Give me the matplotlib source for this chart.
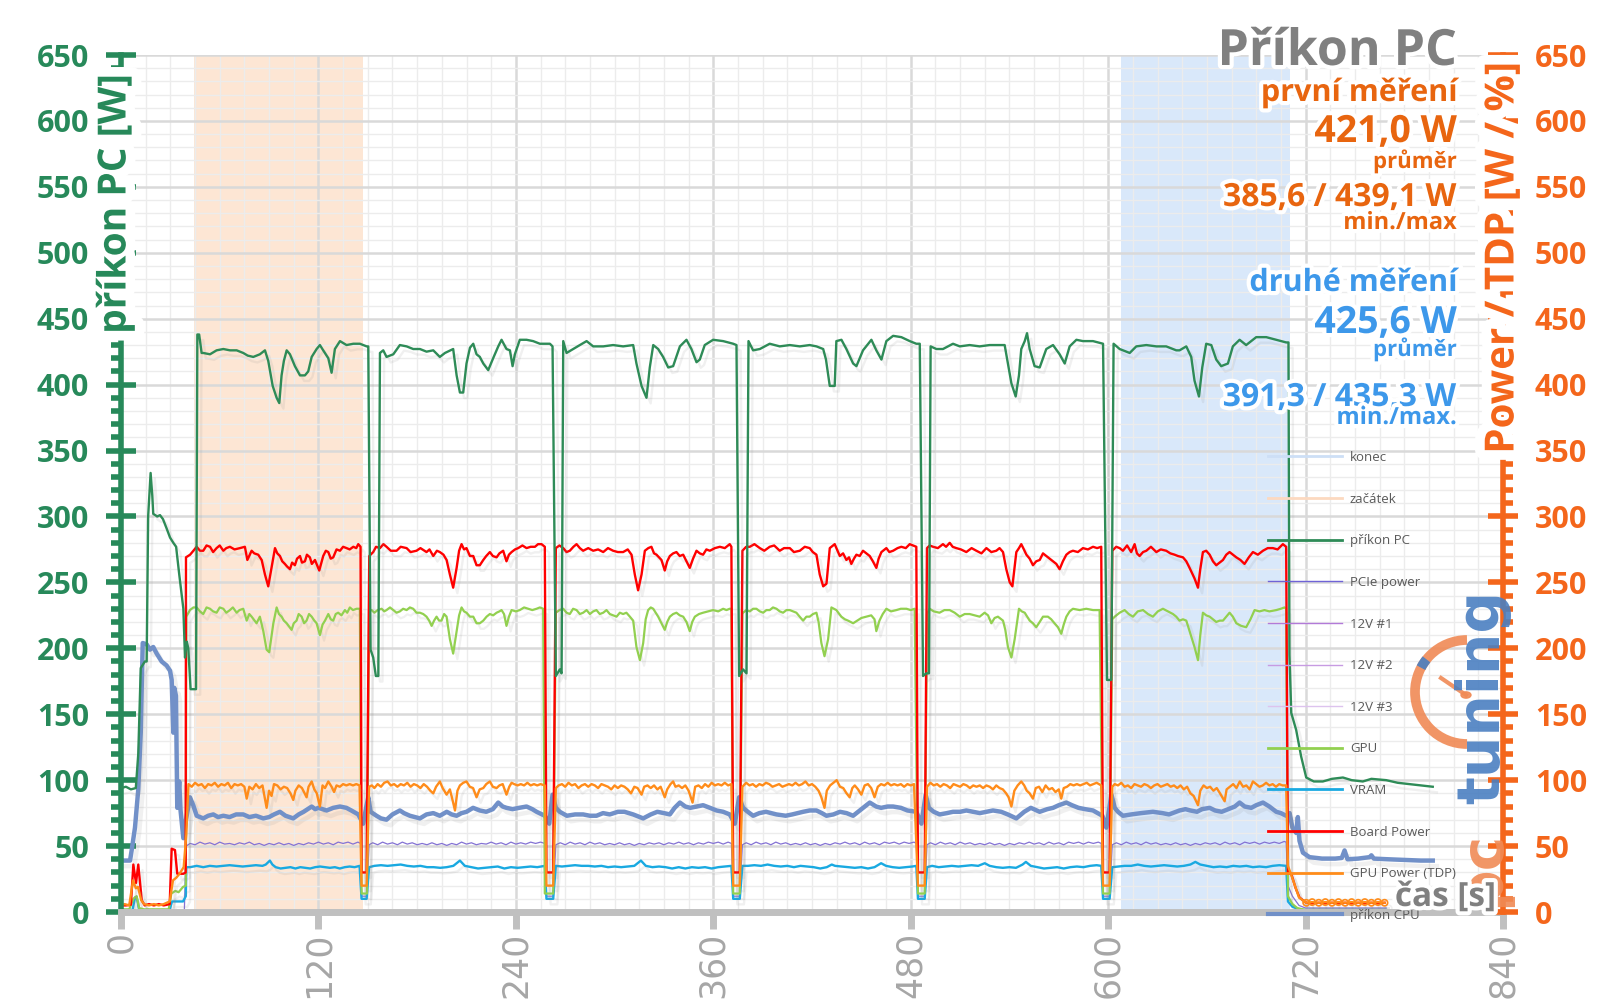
import matplotlib
matplotlib.use("Agg")
import matplotlib.pyplot as plt
from matplotlib import patheffects as pe
from matplotlib.lines import Line2D
from matplotlib.patches import Arc, Circle
from matplotlib.ticker import MultipleLocator

plt.rcParams["font.family"] = ["Open Sans", "DejaVu Sans"]

# ---- data (time [s], value [W]) ----
zacatek = (44.4, 147.2)
konec = (608.0, 710.3)

pc_pts = [(0,94),(3,95),(6,93),(9,94),(10.5,120),(12,185),(14.5,190),(15.6,190),(16.5,300),(18,333),(19,316),(19.6,302),(22,300),(23.7,301),(25.5,298),(27.7,291),(29.8,284),(31.8,280),(33.5,277),(35.4,256),(37.9,230),(38.9,193),(40,205),(40.9,200),(42.3,169),(45.6,169),(46.4,438),(47.5,438),(49,424),(50,424),(54.1,423),(58.1,426),(62.2,427),(66.2,426),(70.3,426),(74.3,424),(77,422),(80.4,421),(84.4,423),(87.5,426),(89.5,418),(92.2,399),(94.6,390),(96.2,386),(97.6,407),(99,418),(100.7,426),(102.7,423),(105.7,414),(108.8,407),(111.8,407),(113.8,410),(115.9,421),(118.9,427),(120.9,430),(122.9,426),(126,420),(128,409),(130,427),(133.1,433),(137.1,430),(141.2,431),(145.2,431),(149.3,429),(150.3,429),(151.7,199),(153.3,193),(154.9,179),(156.4,179),(157.4,424),(159.4,426),(161.4,421),(165.5,423),(169.5,430),(173.6,429),(177.6,427),(181.7,427),(185.7,425),(189.8,426),(193.8,421),(196.9,424),(201.9,427),(204,407),(206,394),(208,394),(210,416),(212.1,428),(214.1,431),(216.1,423),(218.1,421),(220.2,416),(223.2,411),(226.2,420),(229.3,429),(231.3,434),(234.3,427),(236.4,426),(238,414),(239.4,423),(242.4,434),(246.5,434),(250.5,433),(254.6,431),(260.7,431),(262.3,429),(264.3,179),(266.7,184),(267.8,181),(268.8,433),(270.8,424),(274.8,427),(278.9,430),(283,433),(287,429),(293.1,429),(299.1,430),(305.2,429),(311.3,430),(313.3,416),(316.4,399),(319.4,390),(321.4,413),(323.5,430),(326.5,427),(329.5,421),(332.6,413),(335.6,414),(339.7,429),(343.7,434),(346.7,427),(349.8,417),(351.8,419),(354.8,430),(359.9,434),(366,433),(372.1,431),(374.1,430),(375.7,179),(378.1,184),(380.2,181),(381.4,433),(384.2,426),(388.3,427),(394.3,431),(400.4,429),(406.5,430),(412.6,429),(418.6,430),(422.7,429),(426.8,427),(428.5,419),(430.8,399),(433.8,399),(434.8,433),(437.9,434),(440.9,427),(445,416),(447,414),(451,426),(456.1,434),(459.1,426),(462.2,419),(465.2,433),(469.3,437),(474.3,436),(479.4,433),(483.4,431),(485.5,431),(487.5,179),(489.5,181),(491.1,181),(492.1,429),(495.6,427),(499.6,427),(505.7,431),(509.8,429),(515.8,430),(521.9,429),(528,430),(537.1,430),(539.1,416),(541.2,401),(543.8,391),(545.8,407),(547.2,427),(549.3,433),(550.7,439),(552.3,427),(555.3,414),(558.4,413),(562.4,427),(566.5,430),(570.5,423),(573.6,416),(576.6,429),(580.7,434),(584.7,433),(590.8,433),(596.9,431),(599.3,176),(601.9,176),(603.3,431),(607,427),(613.1,424),(617.1,429),(623.2,430),(629.3,429),(635.3,429),(641.4,426),(643.4,426),(647.5,429),(650.5,421),(652.5,403),(655.2,391),(657.2,413),(659.6,431),(662.7,430),(665.7,419),(668.7,414),(672.8,416),(675.8,429),(679.9,434),(683.9,430),(690,436),(696.1,436),(702.2,434),(708.2,432),(709.6,432),(710.2,195),(711.3,151),(714.3,138),(717.3,118),(720.4,102),(725,99),(730.5,99),(736,101),(742.7,102),(748,100),(754.8,99),(760,101),(769,100),(776,98),(783.2,97),(790,96),(797.3,95)]

board_pts = [(0,5),(3,5),(6,5.5),(7.5,36),(9.1,22),(10.5,36),(12.6,9),(14.4,5),(17,6),(20,5),(23,6),(26,5),(29.6,6),(30.8,48),(32.8,47),(34.2,29),(37.9,29),(39.3,30),(39.5,269),(42,271),(46,277),(48,274),(50,274),(52,278),(54.1,277),(56,273),(58.1,276),(60,278),(62.2,274),(64,276),(66.2,277),(69,275),(72.3,276),(75.3,277),(76.8,267),(79.4,274),(81,272),(83.4,271),(85.5,267),(87.5,256),(89.5,247),(91.5,261),(93.6,276),(95,272),(96.6,270),(98,266),(99.6,264),(101,262),(102.7,260),(104,265),(105.7,263),(107,268),(108.8,270),(110,265),(111.8,266),(113,271),(114.8,269),(116,264),(117.9,267),(120.5,259),(122.9,270),(124.5,274),(126,273),(127.5,268),(129,269),(131,275),(133.1,274),(135,277),(137.1,276),(139,275),(141.2,277),(143,276),(144.2,279),(145.6,277),(146.2,30),(149.3,30),(150.9,270),(153.3,273),(155,277),(157.4,276),(159.5,279),(161.4,277),(164,274),(167.5,274),(170,277),(173.6,276),(176,273),(179.6,274),(182,276),(185.7,273),(187.5,275),(189.8,270),(192,274),(193.8,273),(196,271),(197.9,267),(199.9,256),(201.9,246),(204,261),(205.5,274),(207,279),(208.5,275),(210,276),(212.1,270),(214.1,270),(216.1,263),(218.1,263),(220.2,267),(222,270),(224.2,273),(226,270),(228.3,269),(230,272),(232.3,274),(234.3,266),(235.8,271),(237.4,273),(239.5,275),(241.4,276),(244,278),(246.5,276),(249,277),(251.6,277),(253.5,279),(255.6,279),(257.6,277),(258.6,30),(262.7,30),(264.3,276),(266.5,278),(268.8,276),(270.8,273),(272.8,274),(275,277),(276.9,279),(278.9,276),(280.9,274),(284,276),(287,274),(290,275),(293.1,273),(296,276),(299.1,274),(302,273),(305.2,273),(308,275),(310.3,271),(312.3,256),(314.3,244),(316.4,256),(318.4,274),(320.5,276),(322.4,277),(324,272),(325.5,271),(327,269),(328.5,267),(330.5,259),(332,266),(333.6,270),(335.6,272),(337.6,273),(339.6,270),(341.7,271),(343.7,266),(345.7,261),(347.7,268),(349.8,274),(351.8,272),(353.8,271),(355.8,275),(357.9,274),(361,276),(364,277),(367,276),(370,279),(371,277),(372.1,30),(376.1,30),(377.7,274),(380,277),(382.2,277),(385,279),(388.3,276),(391,274),(394.3,277),(397,278),(400.4,274),(403,276),(406.5,276),(409,273),(412.6,274),(415.6,277),(418.6,276),(420.5,273),(422.7,271),(424.7,256),(426.8,247),(428.8,249),(430.8,276),(433.8,279),(436.9,270),(438.9,272),(440.9,267),(442.5,269),(443.9,264),(445.5,268),(447,271),(449,270),(451,274),(453,272),(455.1,270),(457,266),(459.1,261),(460.5,268),(462.2,273),(465.2,276),(467,273),(469.3,274),(472,276),(474.3,277),(477,276),(479.4,279),(483.4,277),(484.4,30),(488.5,30),(489.9,276),(491.5,278),(493.6,277),(496.5,276),(499.6,279),(501.5,277),(503.7,280),(505.5,277),(507.7,276),(510.5,275),(513.8,273),(517,276),(519.9,274),(523,272),(526,276),(529,273),(532,274),(534,276),(536.1,273),(538.1,260),(540.2,250),(541.8,247),(544.2,273),(545.8,276),(547.2,279),(548.8,275),(550.3,271),(552.3,268),(554.3,263),(556.3,266),(558.4,267),(560.4,272),(562.4,270),(564.5,268),(566.5,266),(568.5,264),(570.5,260),(572.5,266),(574.6,271),(576.6,273),(578.6,274),(581.6,273),(584.7,276),(587.7,275),(590.8,277),(593.3,276),(595.8,277),(596.9,30),(600.9,30),(602.5,274),(604.9,277),(607,276),(609,274),(611.5,278),(614,273),(616.1,279),(617.5,272),(619.1,270),(621.2,273),(623.2,274),(626,277),(629.3,273),(632,275),(635.3,274),(637.8,272),(640.4,271),(642.4,270),(645.5,269),(647.5,266),(649.5,261),(652.5,253),(654.6,246),(656,260),(657.6,273),(659.6,274),(661.7,271),(663.7,266),(665.7,263),(667.7,265),(669.8,267),(671.8,271),(673.8,273),(675.8,271),(677.9,269),(680.4,267),(682.9,264),(685.5,269),(688,273),(691,271),(694.1,274),(697,276),(700.1,276),(703,275),(706.2,279),(708.2,277),(709.3,29),(711.3,29),(714,18),(716.3,11),(720.4,7),(724,6.5),(728,7),(732,6.5),(736,7),(740,6.5),(744,7),(748,6.5),(752,7),(756,6.5),(760,7),(764,6.5),(768,7)]

gpu_pts = [(0,2),(5,2),(7.5,10),(9.5,12),(11,3),(14,2),(20,2),(25,2),(29,2),(30.6,14),(33,16),(35,15),(37.7,19),(39.4,20),(39.7,224),(41.9,229),(44,231),(46,231),(48,228),(50,226),(52,231),(54.1,230),(56,228),(58.1,227),(60,231),(62.2,230),(64,227),(66.2,229),(68,231),(70.3,227),(72,229),(74.3,230),(76.4,221),(78,226),(79.4,224),(82.4,219),(84.4,224),(86.5,213),(88.5,199),(90.1,197),(92.6,219),(94.6,231),(96,226),(97.6,224),(99,221),(100.7,219),(103.7,214),(105,219),(106.7,221),(108,226),(109.8,224),(111.3,219),(112.8,221),(114.3,226),(115.9,224),(117.5,221),(118.9,219),(120.9,210),(122.5,218),(124,221),(126,226),(127.5,222),(129,221),(130.5,226),(132,227),(134,225),(136.1,229),(137.5,227),(139.1,231),(141,229),(143.2,230),(145.2,230),(146.2,14),(149.5,14),(150.8,229),(152.3,229),(154,227),(156,229),(158.4,230),(160,228),(161.4,229),(163.5,231),(165.5,229),(167.5,227),(169.5,228),(171.5,230),(173.6,229),(175.6,231),(177.6,230),(179.6,227),(181.7,227),(183.7,226),(185.7,224),(187.3,221),(188.8,217),(190.3,221),(191.8,224),(193.3,221),(194.8,221),(196.4,226),(197.9,224),(199.9,207),(201.9,196),(204,213),(205.5,225),(207,231),(208.5,228),(210,227),(212.1,224),(214.1,224),(216.1,219),(218.1,219),(220.2,221),(222.2,224),(224.2,226),(226.2,225),(228.3,227),(230,228),(231.3,229),(232.8,226),(234.3,217),(235.8,224),(237.4,229),(240,228),(242.4,229),(245,231),(247.5,230),(250,229),(252.6,230),(254.6,231),(256.6,230),(257.6,14),(262.7,14),(264.3,227),(266.5,229),(268.8,230),(270.8,227),(272.8,226),(274.8,230),(276.9,229),(278.9,226),(280.9,227),(283,229),(285,226),(287,228),(289,229),(291,226),(293.1,227),(295.1,229),(297.1,226),(299.1,225),(301.2,224),(303.2,227),(305.2,226),(307.2,227),(309.3,224),(311.3,221),(313.3,201),(315.4,191),(317.4,204),(318.9,222),(320.4,229),(322,231),(323.5,230),(325,227),(326.5,224),(328.5,219),(330.5,214),(332,220),(333.6,224),(335.6,226),(337.6,227),(339.6,225),(341.7,224),(343.7,220),(345.7,213),(347.2,220),(348.8,224),(351.3,226),(353.8,227),(356.8,228),(359.9,229),(363,228),(366,230),(368,229),(370,230),(371,230),(372.1,14),(376.1,14),(377.7,226),(378.1,227),(380.1,229),(382.2,228),(384.2,230),(386.2,230),(388.3,228),(390.3,227),(392.3,229),(394.3,229),(396.3,231),(398.4,230),(400.4,228),(402.4,227),(404.5,229),(406.5,229),(408.5,228),(410.5,227),(412.5,224),(414.6,221),(416.6,224),(418.6,224),(420.6,226),(422.7,227),(424,220),(425.7,204),(427.6,194),(429.8,207),(431.8,231),(434.8,229),(437.8,224),(440,222),(441.9,221),(445,219),(447.5,221),(450,223),(453.1,224),(456,225),(458,222),(459.1,213),(461,221),(463,226),(465.2,230),(468,228),(471.3,229),(474,230),(477.4,230),(480,229),(482.4,230),(484.4,14),(488.5,14),(489.9,226),(491.5,230),(494,228),(497.5,227),(500.5,229),(503.7,229),(506.7,227),(509.8,224),(512.8,226),(515.8,226),(518.8,225),(521.9,224),(524.9,227),(527,225),(529,219),(531,223),(533,224),(536.1,221),(537.5,214),(539.1,201),(541.2,193),(543.2,207),(545.8,230),(547.5,228),(549.3,227),(552.3,221),(554.3,219),(556.3,216),(558.4,220),(560.4,224),(563.4,224),(565.4,222),(567.4,219),(569.5,216),(571.5,211),(573,218),(574.6,224),(576.6,228),(578.6,230),(582.7,229),(586.7,230),(590.8,229),(594.8,229),(596.9,14),(600.9,14),(602.5,222),(604,224),(607,227),(610,229),(612.5,226),(615.1,224),(618,228),(621.2,229),(624.2,226),(627.2,224),(630.2,228),(633.3,230),(636.3,228),(639.4,226),(641.4,224),(643.4,221),(645.5,222),(647.5,221),(649.5,213),(652.5,201),(654.6,191),(656,210),(657.6,227),(659.6,225),(661.7,224),(663.7,222),(665.7,220),(667.8,221),(669.8,221),(671.8,224),(673.8,227),(675.8,224),(677.9,219),(680.9,217),(683.9,216),(686.5,222),(689,229),(692,228),(695,229),(698,228),(702.2,229),(705,230),(707.2,231),(708.2,230),(709.3,12),(712,6),(715,3),(720,1.5),(730,1.5),(745,1.5),(760,1.5),(769,1.5)]

tdp_pts = [(0,5),(2.2,6),(5,5),(7.3,24),(9,18),(10.3,19),(12.3,9),(14,6),(17,5),(20,6),(23,5),(26,6),(29.6,8),(31.6,24),(33.6,26),(35.6,29),(38.1,34),(39.7,59),(41,97),(43,95),(45,98),(47,96),(49,97),(51,94),(53,97),(55,96),(57,98),(59,95),(61,97),(63,96),(65,98),(67,94),(69,97),(71,96),(73,97),(75,95),(76.4,86),(78,95),(80,93),(82,97),(84,94),(86,96),(88.5,79),(90,92),(91.5,88),(93,97),(95,96),(97,93),(99,95),(101,94),(103,90),(104.7,85),(106,92),(108,96),(110,94),(112.8,87),(114,95),(115.9,99),(117.5,93),(119,90),(120.9,80),(122.5,96),(124,94),(126,99),(128,95),(129.5,91),(131,96),(133,95),(135,97),(137,96),(139,97),(141,96),(143,97),(145,96),(146.2,20),(149.3,20),(150.8,95),(152.5,96),(154,94),(156,97),(158,95),(160,98),(162,99),(164,96),(166,97),(168,95),(170,97),(172,96),(174,98),(176,95),(178,97),(180,96),(182,94),(184,97),(186,95),(188,92),(189.8,90),(191.5,95),(193.8,99),(195.5,94),(197.9,89),(199.9,93),(201.5,85),(203,77),(204.5,92),(206,96),(208,98),(210,99),(212,95),(214,94),(216.1,87),(218,93),(220.2,94),(222,97),(224.2,99),(226,95),(228.3,94),(230,96),(232,97),(234.3,89),(236,95),(237.4,98),(239,97),(241,96),(243,97),(245,96),(247,98),(249,96),(251,97),(253,96),(255,97),(257.6,96),(258.6,20),(262.7,20),(264.3,94),(266,96),(268,97),(270,95),(272,98),(274,96),(276,97),(278,94),(280,96),(282,97),(284,95),(286,97),(288,96),(290,94),(292,97),(294,96),(296,95),(298,93),(300,96),(302,94),(304,96),(306,95),(308,93),(310,90),(312,95),(314,94),(316.4,89),(318,95),(320,96),(322,94),(324,96),(326,93),(328,95),(330.5,87),(332,93),(334,97),(335.6,99),(337,95),(339,96),(341,94),(343,96),(345,92),(347.4,83),(349,95),(351,96),(353,94),(355,97),(357,95),(359,98),(361,96),(363,97),(365,96),(367,98),(369,96),(371,97),(372.1,20),(376.1,20),(377.7,95),(380,98),(382,96),(384,97),(386,95),(388,97),(390,96),(392,98),(394,97),(396,95),(398,96),(400,97),(402,95),(404,96),(406,97),(408,96),(410,98),(412,96),(414,97),(416,99),(418,96),(420,97),(422,95),(424,92),(425.7,87),(427.6,79),(429,92),(431,96),(433,98),(435,100),(437,95),(439,94),(441,90),(442.9,87),(444.5,94),(446,96),(448,93),(450,89),(452,96),(454,97),(456,94),(458,87),(460,95),(462,97),(464,96),(466,98),(468,96),(470,97),(472,96),(474,97),(476,95),(478,97),(480,96),(482,97),(484.4,20),(488.5,20),(489.9,95),(492,98),(494,96),(496,97),(498,95),(500,97),(502,96),(504,94),(506,97),(508,96),(510,95),(512,97),(514,96),(516,94),(518,96),(520,95),(522,96),(524,94),(526,96),(528,95),(530,93),(532,96),(534,94),(536,93),(538,90),(539.5,87),(541.2,80),(543,92),(545,96),(547.2,99),(549,96),(550.5,92),(552.3,90),(554.3,86),(556,94),(558,95),(560,91),(562,96),(564,93),(566,94),(568,91),(570,93),(571.5,86),(573,94),(575,95),(577,97),(579,96),(581,97),(583,96),(585,97),(587,98),(589,96),(591,97),(593,98),(595.8,96),(596.9,20),(600.9,20),(602.5,95),(604,97),(606,96),(608,98),(610,95),(612,96),(614,94),(616,97),(618,96),(620,95),(622,97),(624,96),(626,94),(628,96),(630,97),(632,95),(634,96),(636,97),(638,95),(640,96),(642,94),(644,96),(646,93),(648,95),(650,90),(652,88),(654.6,81),(656,92),(658,96),(660,94),(662,95),(664,92),(666,94),(668,90),(670.8,84),(672,93),(674,95),(676,97),(678,94),(680,99),(682,95),(684,96),(686,93),(688,99),(690,97),(692,95),(694,96),(696,98),(698,96),(700,97),(702,95),(704,97),(706,96),(708.2,96),(709.3,35),(711,29),(713,22),(716,11),(720.4,7),(724,7.5),(728,7),(732,7.5),(736,7),(740,7.5),(744,7),(748,7.5),(752,7),(756,7.5),(760,7),(764,7.5),(768,7)]

cpu_pts = [(0,39),(3,39),(5.5,39),(6.5,47),(8.5,64),(10.5,93),(12,136),(13.2,204),(15.6,203),(17.6,199),(19.6,201),(21.7,196),(24.7,190),(27.7,187),(29.8,183),(30.8,176),(31.8,136),(32.4,170),(33.4,164),(34.2,79),(35.4,99),(36.2,77),(37.9,56),(39.5,70),(41.9,87),(43.9,81),(46,73),(50,71),(53,73),(56.1,74),(59,72),(62.2,73),(66,72),(70,74),(74.3,74),(78,72),(82,73),(86.5,71),(90,72),(93,74),(96.6,76),(100,73),(104.7,71),(108,74),(111,76),(115.9,80),(118,78),(120,79),(125,77),(129,79),(133.1,80),(137,79),(140,77),(144.2,74),(147.2,67),(149.3,81),(150.3,87),(151.7,76),(155.3,73),(158,71),(161.4,70),(165,74),(169.5,77),(172,75),(175.6,73),(181.7,71),(185.7,74),(189.8,75),(193.8,73),(198,76),(201,74),(204,73),(207,75),(210,76),(214,79),(218.1,77),(222,76),(226,78),(229.3,83),(232,80),(234.3,79),(238,78),(242,79),(246.5,80),(250,78),(252.6,76),(257.6,73),(260.3,67),(262.3,89),(264.3,79),(266.7,76),(271,73),(276,74),(280.9,74),(285,73),(289,73),(293,75),(297.1,74),(302,76),(306,76),(311.3,74),(317.4,71),(322,74),(326,76),(330,75),(333.6,74),(336.5,79),(339.7,83),(343,80),(346,79),(350,80),(353.8,81),(358,79),(362,77),(366,76),(370,74),(373.1,67),(375.7,87),(378.1,79),(381,76),(384.2,73),(388,75),(392,76),(398.4,74),(404,73),(408,74),(414.6,76),(418.6,77),(422.7,77),(426,75),(428.8,73),(433,74),(437,76),(441,75),(445,73),(450,78),(455.1,83),(459,80),(462,79),(466,80),(469.3,80),(474,79),(478,77),(483.4,76),(486.5,67),(489.1,89),(491,79),(494,76),(497.6,74),(502,75),(505.7,76),(510,76),(513.8,77),(518,76),(522,75),(526,76),(530,77),(535,76),(539,74),(544.2,71),(549,76),(553,79),(558.4,76),(563,78),(566.5,79),(570,81),(574.6,83),(578,81),(582,79),(586,78),(590.8,77),(596.5,73),(598.9,64),(602,89),(604,79),(606,76),(609,73),(614,74),(620,75),(627.2,76),(633,75),(637,74),(643.4,77),(647,78),(650,77),(654,76),(657,78),(661.7,79),(665,77),(669,76),(673,78),(677,80),(679.9,83),(683,80),(687,79),(690,81),(694.1,83),(698,80),(702.2,76),(705,75),(708.2,73),(710.3,75),(712,64),(714.3,60),(715.3,72),(716.3,54),(718.4,45),(722.4,41.6),(730,40.5),(738,40.5),(742,41),(743.7,46.7),(745.5,40),(752,40.5),(758.9,41.6),(760,43),(761.5,40.5),(770,40),(780,39.5),(790,39),(797.3,39)]

pcie_pts = [(0,1),(38.5,1),(39.6,50),(42,52),(45,51),(48,53),(51,51.5),(54,52.5),(57,51),(60,53),(63,51.5),(66,52),(69,51),(72,52.5),(75,51.5),(78,53),(81,51),(84,52),(87,50.5),(90,52),(93,51),(96,52.5),(99,51),(102,52),(105,50.5),(108,52),(111,51),(114,52.5),(117,51.5),(120,53),(123,51.5),(126,52.5),(129,51),(132,53),(135,52),(138,53),(141,51.5),(144,53),(145.6,52),(146.2,12),(149.3,12),(150.8,51),(153,52.5),(156,51),(159,53),(162,51.5),(165,52.5),(168,51),(171,53),(174,51.5),(177,52.5),(180,51),(183,52),(186,51),(189,52.5),(192,51),(195,52),(198,50.5),(201,52),(204,51),(207,53),(210,51.5),(213,52.5),(216,51),(219,52),(222,51.5),(225,53),(228,51.5),(231,52.5),(234,51),(237,53),(240,51.5),(243,52.5),(246,51.5),(249,53),(252,52),(255,53),(257.6,52),(258.6,12),(262.7,12),(264.3,51),(267,52.5),(270,51),(273,53),(276,51.5),(279,52.5),(282,51),(285,53),(288,51.5),(291,52.5),(294,51),(297,52),(300,51),(303,52.5),(306,51),(309,52),(312,50.5),(315,52),(318,51),(321,52.5),(324,51.5),(327,52.5),(330,51),(333,52.5),(336,51.5),(339,53),(342,51.5),(345,52.5),(348,51),(351,52.5),(354,51.5),(357,53),(360,52),(363,53),(366,51.5),(369,53),(371,52),(372.1,12),(376.1,12),(377.7,51),(380,52.5),(383,51),(386,53),(389,51.5),(392,52.5),(395,51),(398,53),(401,51.5),(404,52.5),(407,51),(410,52),(413,51),(416,52.5),(419,51),(422,52),(425,50.5),(428,52),(431,51),(434,52.5),(437,51.5),(440,53),(443,51.5),(446,52.5),(449,51),(452,53),(455,51.5),(458,52.5),(461,51),(464,53),(467,52),(470,53),(473,51.5),(476,53),(479,52),(482,53),(483.4,52),(484.4,12),(488.5,12),(489.9,51),(492,52.5),(495,51),(498,53),(501,51.5),(504,52.5),(507,51),(510,53),(513,51.5),(516,52.5),(519,51),(522,52),(525,51),(528,52.5),(531,51),(534,52),(537,50.5),(540,52),(543,51),(546,52.5),(549,51.5),(552,53),(555,51.5),(558,52.5),(561,51),(564,53),(567,51.5),(570,52.5),(573,51),(576,53),(579,52),(582,53),(585,51.5),(588,53),(591,52),(594,53),(595.8,52),(596.9,12),(600.9,12),(602.5,51),(605,52.5),(608,51),(611,53),(614,51.5),(617,52.5),(620,51),(623,53),(626,51.5),(629,52.5),(632,51),(635,52),(638,51),(641,52.5),(644,51),(647,52),(650,50.5),(653,52),(656,51),(659,52.5),(662,51.5),(665,52.5),(668,51),(671,53),(674,51.5),(677,52.5),(680,51),(683,53),(686,52),(689,53),(692,51.5),(695,53),(698,52),(701,53),(704,52),(707,53.5),(708.2,53),(709.3,20),(712,12),(716,5),(720,3),(769,3)]

vram_pts = [(0,1.5),(7,1.5),(8.5,11),(9.5,11.5),(11,2),(14,1.5),(29.6,1.5),(31,8),(37.7,8),(39.4,12),(39.7,34),(42,34),(46,35),(50,34),(54,35),(58,34.5),(62,35),(66,35.5),(70,35),(74,34.5),(78,35),(82,35.5),(86,35),(88,36),(90.5,39),(92,36),(94,34),(97,33),(100,33.5),(103,34),(106,33),(109,34),(112,33.5),(115,33),(118,34),(121,34.5),(124,34),(127,33.5),(130,34),(133,33),(136,34),(139,34.5),(142,34),(145,35),(146.2,10),(149.3,10),(150.8,34),(154,35),(158,35.5),(162,35),(166,35.5),(170,36),(174,35),(178,34.5),(182,35),(186,34),(190,34),(194,33.5),(198,34),(202,35),(206,39),(209,35),(213,34),(217,33),(221,33.5),(225,34),(229,34.5),(233,33),(237,34),(241,33.5),(245,34),(249,34.5),(253,34),(257.6,35),(258.6,10),(262.7,10),(264.3,35),(268,34.5),(272,35),(276,35.5),(280,35),(284,35),(288,34.5),(292,35),(296,34),(300,34.5),(304,34),(308,34.5),(312,35),(316,39),(319,35),(323,34),(327,34.5),(331,34),(335,33),(339,34),(343,33),(347,34),(351,33.5),(355,34),(359,33),(363,34),(367,34.5),(371,35),(372.1,10),(376.1,10),(377.7,35),(381,35),(385,35.5),(389,35),(393,36),(397,35),(401,34.5),(405,35),(409,34),(413,35),(417,34.5),(421,34),(425,33),(429,34),(432,36),(434,35),(438,34.5),(442,34),(446,33.5),(450,34),(454,33),(458,34),(462,37),(465,35),(469,34),(473,33.5),(477,34),(481,34.5),(483.4,35),(484.4,10),(488.5,10),(489.9,34),(493,35),(497,34),(501,34.5),(505,35),(509,34.5),(513,35),(517,35.5),(521,35),(525,37),(528,35),(532,34),(536,33.5),(540,34),(544,33.5),(548,36),(550,38),(553,35),(557,34),(561,33),(565,33.5),(569,34),(573,33),(577,34),(581,34.5),(585,34),(589,35),(593,35.5),(595.8,35),(596.9,10),(600.9,10),(602.5,34),(606,34.5),(610,35),(614,35),(618,36),(622,35),(626,34.5),(630,35),(634,35.5),(638,35),(642,34.5),(646,35),(650,36),(653,38),(656,36),(660,35),(664,34),(668,34.5),(672,34),(676,35),(680,34.5),(684,35),(688,34),(692,34.5),(696,34),(700,35),(704,35.5),(708.2,35),(709.3,8),(712,4),(716,2),(720,1.5),(769,1.5)]

x_ticks = [0, 120, 240, 360, 480, 600, 720, 840]
y_ticks = list(range(0, 651, 50))

legend_names = ["konec", "začátek", "příkon PC", "PCIe power", "12V #1", "12V #2",
                "12V #3", "GPU", "VRAM", "Board Power", "GPU Power (TDP)", "příkon CPU"]

GREEN = "#27895a"
ORANGE = "#f4661b"
TXT_OR = "#e8650f"
TXT_BL = "#3d98ea"
GRAY = "#808080"

c_pc = "#2e8b57"
c_board = "#ff0000"
c_gpu = "#92d050"
c_tdp = "#ff8c1a"
c_cpu = "#7190c8"
c_pcie = "#8472d4"
c_vram = "#19a9e1"

W, H = 1600, 1008


def fx(px):
    return px / W


def fy(py):
    return 1 - py / H


def unzip(pts):
    return [p[0] for p in pts], [p[1] for p in pts]


fig = plt.figure(figsize=(16, 10.08), dpi=100)
ax = fig.add_axes([fx(121), fy(912), (1503 - 121) / W, (912 - 55) / H])
ax.set_xlim(0, 840)
ax.set_ylim(0, 650)
ax.set_axisbelow(True)

# shaded parts
ax.axvspan(*zacatek, color="#fde6d4", lw=0, zorder=0.3)
ax.axvspan(*konec, color="#d9e8fa", lw=0, zorder=0.3)

ax.xaxis.set_minor_locator(MultipleLocator(15))
ax.yaxis.set_minor_locator(MultipleLocator(10))
ax.grid(which="major", color="#d9d9d9", lw=1.8)
ax.grid(which="minor", color="#ececec", lw=1.0)

shadow = [pe.SimpleLineShadow(offset=(3, -4), shadow_color="#888888", alpha=0.12), pe.Normal()]

t, v = unzip(pcie_pts)
ax.plot(t, v, color=c_pcie, lw=0.9, zorder=2)
t, v = unzip(vram_pts)
ax.plot(t, v, color=c_vram, lw=1.7, zorder=2.1, path_effects=shadow)
t, v = unzip(cpu_pts)
ax.plot(t, v, color=c_cpu, lw=3.2, zorder=2.2, path_effects=shadow)
t, v = unzip(gpu_pts)
ax.plot(t, v, color=c_gpu, lw=1.6, zorder=2.3, path_effects=shadow)
t, v = unzip(board_pts)
ax.plot(t, v, color=c_board, lw=1.7, zorder=2.4, path_effects=shadow)
t, v = unzip(tdp_pts)
tail = [i for i, tt in enumerate(t) if tt >= 720]
ax.plot(t, v, color=c_tdp, lw=1.7, zorder=2.5, marker="o", ms=4.5, mfc="none",
        mew=1.2, markevery=tail, path_effects=shadow)
t, v = unzip(pc_pts)
ax.plot(t, v, color=c_pc, lw=1.7, zorder=2.6, path_effects=shadow)

# axes styling
for s in ["top", "right"]:
    ax.spines[s].set_visible(False)
ax.spines["left"].set_color(GREEN)
ax.spines["left"].set_linewidth(4)
ax.spines["bottom"].set_color("#c0c0c0")
ax.spines["bottom"].set_linewidth(5)

ax.set_yticks(y_ticks, labels=[str(y) for y in y_ticks], fontweight="bold")
ax.tick_params(axis="y", which="major", direction="inout", length=22, width=4,
               color=GREEN, labelcolor=GREEN, labelsize=22, pad=12)
ax.tick_params(axis="y", which="minor", direction="out", length=7, width=4, color=GREEN)
ax.set_xticks(x_ticks, labels=[str(x) for x in x_ticks], family="DejaVu Sans")
ax.tick_params(axis="x", which="major", direction="out", length=12, width=5,
               color="#c0c0c0", labelcolor="#a6a6a6", labelsize=25, labelrotation=90, pad=2)
ax.tick_params(axis="x", which="minor", length=0)

ax2 = ax.twinx()
ax2.set_ylim(0, 650)
for s in ["top", "left", "bottom"]:
    ax2.spines[s].set_visible(False)
ax2.spines["right"].set_color(ORANGE)
ax2.spines["right"].set_linewidth(4)
ax2.set_yticks(y_ticks, labels=[str(y) for y in y_ticks], fontweight="bold")
ax2.yaxis.set_minor_locator(MultipleLocator(10))
ax2.tick_params(axis="y", which="major", direction="inout", length=22, width=4,
                color=ORANGE, labelcolor=ORANGE, labelsize=22, pad=12)
ax2.tick_params(axis="y", which="minor", direction="out", length=7, width=4, color=ORANGE)

glow = [pe.withStroke(linewidth=6, foreground="white")]
bigglow = [pe.withStroke(linewidth=14, foreground="white")]

fig.text(fx(115), fy(204), "příkon PC [W]", rotation=90, ha="center", va="center",
         color=GREEN, fontsize=28, fontweight="bold", path_effects=bigglow)
fig.text(fx(1503), fy(258), "Power / TDP [W / %]", rotation=90, ha="center", va="center",
         color=ORANGE, fontsize=29, fontweight="bold", path_effects=bigglow)

# stats block on the right
xr = fx(1457)
stats = [
    ("Příkon PC", 65, 36, GRAY),
    ("první měření", 101, 22, TXT_OR),
    ("421,0 W", 142, 27, TXT_OR),
    ("průměr", 168, 16, TXT_OR),
    ("385,6 / 439,1 W", 206, 23, TXT_OR),
    ("min./max", 229, 17, TXT_OR),
    ("druhé měření", 291, 22, TXT_BL),
    ("425,6 W", 333, 27, TXT_BL),
    ("průměr", 356, 16, TXT_BL),
    ("391,3 / 435,3 W", 406, 23, TXT_BL),
    ("min./max.", 424, 17, TXT_BL),
]
for s, yb, size, col in stats:
    fig.text(xr, fy(yb), s, ha="right", va="baseline", fontsize=size,
             fontweight="bold", color=col, path_effects=glow, zorder=6)

# pcTuning watermark
logo_or = "#f08a55"
logo_bl = "#4a7fc1"
fig.text(fx(1499), fy(907), "pc", rotation=90, rotation_mode="anchor", ha="left",
         va="baseline", fontsize=42, fontweight="bold", family="DejaVu Sans",
         color=logo_or, alpha=0.9, zorder=4)
fig.text(fx(1499), fy(590), "tuning", rotation=90, rotation_mode="anchor", ha="right",
         va="baseline", fontsize=42, fontweight="bold", family="DejaVu Sans",
         color=logo_bl, alpha=0.9, zorder=4)
r = 52
fig.add_artist(Arc((fx(1467), fy(692)), 2 * r / W, 2 * r / H, theta1=90, theta2=270,
                   color=logo_or, lw=7, alpha=0.9, transform=fig.transFigure, zorder=4))
fig.add_artist(Arc((fx(1467), fy(692)), 2 * r / W, 2 * r / H, theta1=128, theta2=140,
                   color=logo_bl, lw=7, alpha=0.9, transform=fig.transFigure, zorder=4))
fig.add_artist(Line2D([fx(1441), fx(1466)], [fy(678), fy(695)], color=logo_or, lw=3,
                      alpha=0.9, transform=fig.transFigure, zorder=4))
fig.add_artist(Circle((fx(1466), fy(695)), 5 / W, color=logo_or, alpha=0.9,
                      transform=fig.transFigure, zorder=4))

fig.text(fx(1496), fy(906), "čas [s]", ha="right", va="baseline", fontsize=24,
         fontweight="bold", color=GRAY, path_effects=glow, zorder=6)

# legend
handles = [
    Line2D([], [], color="#cddff6", lw=2),
    Line2D([], [], color="#fcd9c0", lw=2),
    Line2D([], [], color=c_pc, lw=2),
    Line2D([], [], color="#6f63d6", lw=1),
    Line2D([], [], color="#b27ad8", lw=1),
    Line2D([], [], color="#c79be2", lw=1),
    Line2D([], [], color="#ddc3ee", lw=1),
    Line2D([], [], color=c_gpu, lw=2),
    Line2D([], [], color=c_vram, lw=2),
    Line2D([], [], color=c_board, lw=2),
    Line2D([], [], color=c_tdp, lw=2),
    Line2D([], [], color=c_cpu, lw=3),
]
fig.legend(handles, legend_names, loc="upper left", bbox_to_anchor=(fx(1268), fy(451)),
           bbox_transform=fig.transFigure, frameon=False, fontsize=9.5, labelcolor="#595959",
           handlelength=5.6, handletextpad=0.6, labelspacing=2.17, borderpad=0,
           borderaxespad=0)

fig.savefig("out.png", dpi=100)
